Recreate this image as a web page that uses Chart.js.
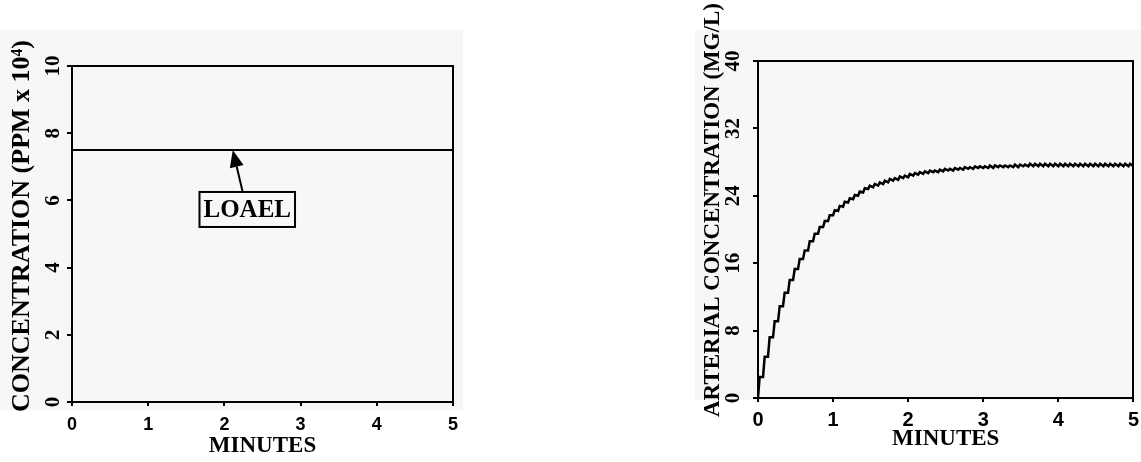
<!DOCTYPE html>
<html>
<head>
<meta charset="utf-8">
<script src="https://cdn.jsdelivr.net/npm/chart.js@4.4.1/dist/chart.umd.min.js"></script>
<style>
html, body { margin: 0; padding: 0; background: #fff; overflow: hidden; }
body { width: 1141px; height: 462px; position: relative; }
.shade { position: absolute; background: #f7f7f7; }
.panel { position: absolute; top: 0; height: 462px; }
#left { left: 0; width: 470px; }
#right { left: 695px; width: 450px; }
</style>
</head>
<body>
<div class="shade" style="left:0;top:30px;width:463px;height:380px"></div>
<div class="shade" style="left:695px;top:30px;width:446px;height:370px"></div>
<div class="panel" id="left"><canvas id="exposure"></canvas></div>
<div class="panel" id="right"><canvas id="arterial"></canvas></div>

<script>
// tick labels
const minuteTicks = [0, 1, 2, 3, 4, 5];
const ppmTicks = [0, 2, 4, 6, 8, 10];
const mgTicks = [0, 8, 16, 24, 32, 40];

// exposure concentration, ppm x 10^4
const exposureMin = [0, 5];
const exposurePpm = [7.5, 7.5];
const loaelPpm = 7.5;

// arterial blood concentration, mg/L (trough / peak of each breath)
const arterialMin = [
  0.000,0.022, 0.067,0.089, 0.133,0.155, 0.200,0.222, 0.267,0.289,
  0.333,0.355, 0.400,0.422, 0.467,0.489, 0.533,0.555, 0.600,0.622,
  0.667,0.689, 0.733,0.755, 0.800,0.822, 0.867,0.889, 0.933,0.955,
  1.000,1.022, 1.067,1.089, 1.133,1.155, 1.200,1.222, 1.267,1.289,
  1.333,1.355, 1.400,1.422, 1.467,1.489, 1.533,1.555, 1.600,1.622,
  1.667,1.689, 1.733,1.755, 1.800,1.822, 1.867,1.889, 1.933,1.955,
  2.000,2.022, 2.067,2.089, 2.133,2.155, 2.200,2.222, 2.267,2.289,
  2.333,2.355, 2.400,2.422, 2.467,2.489, 2.533,2.555, 2.600,2.622,
  2.667,2.689, 2.733,2.755, 2.800,2.822, 2.867,2.889, 2.933,2.955,
  3.000,3.022, 3.067,3.089, 3.133,3.155, 3.200,3.222, 3.267,3.289,
  3.333,3.355, 3.400,3.422, 3.467,3.489, 3.533,3.555, 3.600,3.622,
  3.667,3.689, 3.733,3.755, 3.800,3.822, 3.867,3.889, 3.933,3.955,
  4.000,4.022, 4.067,4.089, 4.133,4.155, 4.200,4.222, 4.267,4.289,
  4.333,4.355, 4.400,4.422, 4.467,4.489, 4.533,4.555, 4.600,4.622,
  4.667,4.689, 4.733,4.755, 4.800,4.822, 4.867,4.889, 4.933,4.955,
  5.000
];
const arterialMgL = [
  0,2.5, 2.5,4.9, 4.9,7.2, 7.2,9.1, 9.1,10.9,
  10.9,12.5, 12.5,14.0, 14.0,15.3, 15.3,16.5, 16.5,17.5,
  17.5,18.6, 18.6,19.5, 19.5,20.3, 20.3,21.0, 21.0,21.7,
  21.7,22.3, 22.2,22.8, 22.7,23.3, 23.2,23.7, 23.6,24.1,
  24.0,24.5, 24.4,24.9, 24.8,25.2, 25.0,25.4, 25.2,25.6,
  25.4,25.8, 25.6,26.0, 25.8,26.1, 25.9,26.3, 26.1,26.4,
  26.2,26.6, 26.4,26.7, 26.5,26.8, 26.6,26.9, 26.7,27.0,
  26.8,27.0, 26.8,27.1, 26.9,27.2, 27.0,27.2, 27.0,27.3,
  27.1,27.3, 27.1,27.4, 27.2,27.4, 27.2,27.5, 27.3,27.5,
  27.3,27.5, 27.3,27.6, 27.3,27.6, 27.4,27.6, 27.4,27.6,
  27.4,27.6, 27.4,27.7, 27.4,27.7, 27.5,27.7, 27.5,27.8,
  27.5,27.8, 27.5,27.8, 27.5,27.8, 27.5,27.8, 27.5,27.8,
  27.5,27.8, 27.5,27.8, 27.5,27.8, 27.5,27.8, 27.5,27.8,
  27.5,27.8, 27.5,27.8, 27.5,27.8, 27.5,27.8, 27.5,27.8,
  27.5,27.8, 27.5,27.8, 27.5,27.8, 27.5,27.8, 27.5,27.8,
  27.5
];

const SERIF = '"Liberation Serif", "Times New Roman", serif';
const SANS = '"Liberation Sans", Arial, sans-serif';

// rotated y axis caption
const sideTitle = {
  id: 'sideTitle',
  afterDraw(chart, args, o) {
    const ctx = chart.ctx;
    ctx.save();
    ctx.translate(o.x, o.y);
    ctx.rotate(-Math.PI / 2);
    ctx.font = 'bold ' + o.size + 'px ' + SERIF;
    ctx.fillStyle = '#000';
    ctx.textAlign = 'center';
    ctx.textBaseline = 'middle';
    ctx.fillText(o.text, 0, 0);
    ctx.restore();
  }
};

// boxed label with an arrow pointing at the LOAEL line
const loaelNote = {
  id: 'loaelNote',
  afterDatasetsDraw(chart, args, o) {
    if (!o.text) return;
    const {ctx, scales: {x, y}} = chart;
    const tipX = x.getPixelForValue(o.tip[0]), tipY = y.getPixelForValue(o.tip[1]);
    const tailX = x.getPixelForValue(o.tail[0]), tailY = y.getPixelForValue(o.tail[1]);
    const bx = x.getPixelForValue(o.at[0]), by = y.getPixelForValue(o.at[1]);
    ctx.save();
    ctx.strokeStyle = '#000';
    ctx.fillStyle = '#000';
    ctx.lineWidth = 2;
    const ang = Math.atan2(tipY - tailY, tipX - tailX);
    const headLen = 17, headW = 7;
    const baseX = tipX - headLen * Math.cos(ang), baseY = tipY - headLen * Math.sin(ang);
    ctx.beginPath();
    ctx.moveTo(tailX, tailY);
    ctx.lineTo(baseX, baseY);
    ctx.stroke();
    ctx.beginPath();
    ctx.moveTo(tipX, tipY);
    ctx.lineTo(baseX + headW * Math.sin(ang), baseY - headW * Math.cos(ang));
    ctx.lineTo(baseX - headW * Math.sin(ang), baseY + headW * Math.cos(ang));
    ctx.closePath();
    ctx.fill();

    ctx.font = 'bold 25px ' + SERIF;
    const w = ctx.measureText(o.text).width + 8, h = 35;
    ctx.fillStyle = '#f7f7f7';
    ctx.fillRect(bx - w / 2, by - h / 2, w, h);
    ctx.strokeRect(bx - w / 2, by - h / 2, w, h);
    ctx.fillStyle = '#000';
    ctx.textAlign = 'center';
    ctx.textBaseline = 'middle';
    ctx.fillText(o.text, bx, by + 1);
    ctx.restore();
  }
};

// top / right edges of the plot box
function frameAxis(pos) {
  return {
    type: 'linear', position: pos, min: 0, max: 1,
    ticks: { display: false },
    grid: { display: false, drawTicks: false, tickLength: 0 },
    border: { display: true, color: '#000', width: 2 }
  };
}

function makeChart(id, cfg) {
  return new Chart(document.getElementById(id), {
    type: 'line',
    data: {
      datasets: [{
        data: cfg.xs.map((v, i) => ({ x: v, y: cfg.ys[i] })),
        borderColor: '#000',
        borderWidth: cfg.lineWidth,
        pointRadius: 0,
        tension: 0,
        fill: false
      }]
    },
    options: {
      responsive: true,
      maintainAspectRatio: false,
      animation: false,
      events: [],
      layout: { padding: cfg.padding },
      plugins: {
        legend: { display: false },
        tooltip: { enabled: false },
        sideTitle: cfg.title,
        loaelNote: cfg.note || {}
      },
      scales: {
        x: {
          type: 'linear', position: 'bottom', min: 0, max: 5,
          afterBuildTicks: s => { s.ticks = minuteTicks.map(v => ({ value: v })); },
          afterFit: s => { s.height = cfg.xHeight; },
          ticks: {
            autoSkip: false, maxRotation: 0, padding: cfg.xPad, color: '#000',
            font: { family: SANS, size: cfg.xFont, weight: 'bold' }
          },
          grid: { drawOnChartArea: false, tickLength: 4, color: '#000', lineWidth: 2 },
          border: { color: '#000', width: 2 },
          title: {
            display: true, text: 'MINUTES', color: '#000',
            font: { family: SERIF, size: cfg.minFont, weight: 'bold' },
            padding: { top: 0, bottom: cfg.minPad }
          }
        },
        y: {
          type: 'linear', position: 'left', min: 0, max: cfg.yTicks[cfg.yTicks.length - 1],
          afterBuildTicks: s => { s.ticks = cfg.yTicks.map(v => ({ value: v })); },
          afterFit: s => { s.width = cfg.yWidth; },
          ticks: {
            minRotation: 90, maxRotation: 90, crossAlign: 'center', padding: cfg.yPad,
            color: '#000', font: { family: SERIF, size: cfg.yFont, weight: 'bold' }
          },
          grid: { drawOnChartArea: false, tickLength: 5, color: '#000', lineWidth: 2 },
          border: { color: '#000', width: 2 }
        },
        top: frameAxis('top'),
        right: frameAxis('right')
      }
    },
    plugins: [sideTitle, loaelNote]
  });
}

makeChart('exposure', {
  xs: exposureMin, ys: exposurePpm, lineWidth: 2,
  yTicks: ppmTicks,
  padding: { left: 0, top: 66, right: 17, bottom: 0 },
  yWidth: 72, xHeight: 60,
  xPad: 8, xFont: 18, yPad: 3, yFont: 21, minFont: 23, minPad: 2,
  title: { text: 'CONCENTRATION (PPM x 10\u2074)', size: 26, x: 22, y: 226 },
  note: { text: 'LOAEL', at: [2.30, 5.73], tail: [2.24, 6.25], tip: [2.11, loaelPpm] }
});

makeChart('arterial', {
  xs: arterialMin, ys: arterialMgL, lineWidth: 2.5,
  yTicks: mgTicks,
  padding: { left: 0, top: 61, right: 8, bottom: 0 },
  yWidth: 63, xHeight: 64,
  xPad: 6, xFont: 20, yPad: 9, yFont: 21, minFont: 23, minPad: 9,
  title: { text: 'ARTERIAL CONCENTRATION (MG/L)', size: 23, x: 18, y: 210 }
});
</script>
</body>
</html>
